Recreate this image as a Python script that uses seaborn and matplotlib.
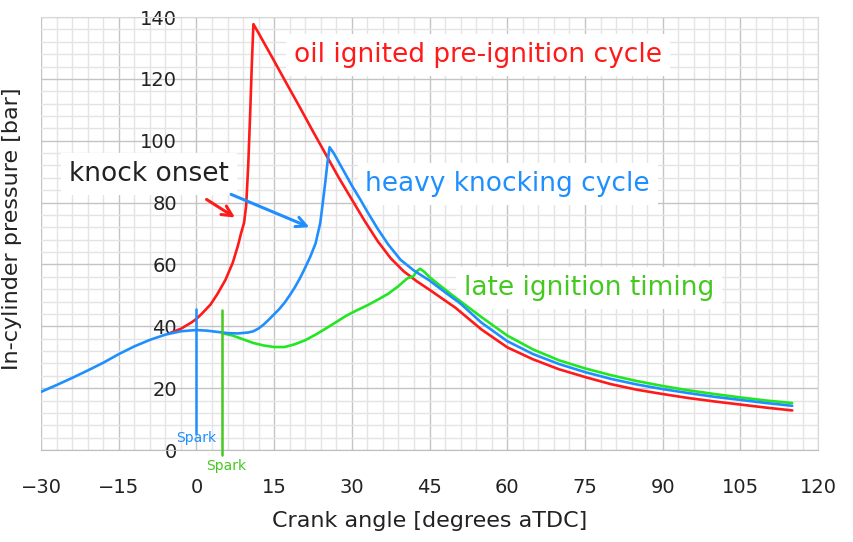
import numpy as np
import matplotlib
matplotlib.use('Agg')
import matplotlib.pyplot as plt
import seaborn as sns

sns.set_style('white')
plt.rcParams['font.family'] = ['DejaVu Sans']

# ---- data (crank angle [deg aTDC], pressure [bar]) ----
# heavy knocking cycle (also the shared compression curve)
knock_deg = [-30, -27, -24, -21, -18, -15, -12, -9, -6, -3, 0, 2, 4, 6, 8, 10, 11, 12,
             13, 14, 15, 16, 17, 18, 19, 20, 21, 22, 23, 23.9, 24.4, 24.9, 25.3, 25.7,
             26.5, 28, 30, 31.7, 33, 35, 37, 39.4, 42, 45, 48, 51, 55, 60, 65, 70, 75,
             80, 85, 90, 95, 100, 105, 110, 115]
knock_bar = [18.8, 21.0, 23.3, 25.7, 28.2, 31.0, 33.5, 35.6, 37.3, 38.4, 38.8, 38.6, 38.2,
             37.8, 37.7, 38.0, 38.4, 39.3, 40.6, 42.2, 43.9, 45.6, 47.6, 50.0, 52.6, 55.6,
             59.0, 62.6, 66.8, 73.4, 80.0, 87.0, 93.0, 97.9, 96.0, 91.5, 85.5, 80.8, 77.0,
             71.5, 66.5, 61.5, 58.0, 54.8, 51.0, 47.3, 41.2, 35.2, 31.0, 27.8, 25.2, 23.0,
             21.2, 19.7, 18.4, 17.2, 16.2, 15.2, 14.3]

# oil ignited pre-ignition cycle
preign_deg = [-5, -3, -1, 0, 1, 2.7, 4, 5.6, 7, 8, 8.6, 9.2, 9.6, 10.0, 10.4, 10.7, 11.0,
              12, 13, 15, 17.5, 20, 22.5, 25, 27.5, 30, 32.5, 35, 37.5, 40, 42.5, 45, 50,
              55, 60, 65, 70, 75, 80, 85, 90, 95, 100, 105, 110, 115]
preign_bar = [37.9, 39.2, 41.2, 42.4, 44.0, 47.0, 50.3, 55.0, 60.5, 66.0, 70.0, 73.5, 79.0,
              92.0, 110.0, 125.0, 137.7, 134.8, 131.8, 125.8, 118.2, 110.7, 103.0, 95.5,
              88.0, 81.0, 74.0, 67.5, 62.0, 57.8, 54.6, 51.8, 46.0, 39.0, 33.2, 29.3, 26.1,
              23.6, 21.3, 19.5, 18.1, 16.8, 15.7, 14.7, 13.7, 12.8]

# late ignition timing
late_deg = [5, 7, 9, 11, 13, 15, 17, 19, 21, 23, 25, 27, 29, 31, 33, 35, 37, 39, 40.7,
            41.9, 42.5, 43.2, 44, 45, 47, 50, 55, 60, 65, 70, 75, 80, 85, 90, 95, 100,
            105, 110, 115]
late_bar = [37.8, 37.0, 35.8, 34.6, 33.8, 33.3, 33.3, 34.2, 35.5, 37.3, 39.3, 41.4, 43.5,
            45.2, 46.8, 48.6, 50.5, 53.0, 55.5, 56.2, 57.8, 58.6, 57.6, 55.9, 53.2, 49.3,
            43.0, 37.0, 32.5, 29.0, 26.4, 24.2, 22.3, 20.7, 19.3, 18.1, 17.0, 16.0, 15.2]

spark_deg = [0, 5]

red = '#ff1a1a'
blue = '#1f8fff'
green = '#22e622'
green_dark = '#45c81f'

fig, ax = plt.subplots(figsize=(8.54, 5.42), dpi=100)
fig.subplots_adjust(left=0.048, right=0.958, bottom=0.1697, top=0.9686)

sns.lineplot(x=preign_deg, y=preign_bar, color=red, lw=1.9, sort=False,
             estimator=None, ax=ax, zorder=3)
sns.lineplot(x=late_deg, y=late_bar, color=green, lw=1.9, sort=False,
             estimator=None, ax=ax, zorder=3)
sns.lineplot(x=knock_deg, y=knock_bar, color=blue, lw=1.9, sort=False,
             estimator=None, ax=ax, zorder=4)

# spark markers
ax.plot([spark_deg[0], spark_deg[0]], [5.5, 45.6], color=blue, lw=1.8, zorder=4)
ax.plot([spark_deg[1], spark_deg[1]], [-1.6, 45.3], color=green_dark, lw=1.8,
        zorder=4, clip_on=False)
ax.text(spark_deg[0], 3.9, 'Spark', color=blue, fontsize=10, ha='center',
        va='center', zorder=5)
ax.text(spark_deg[1] + 0.8, -5.2, 'Spark', color=green_dark, fontsize=10,
        ha='center', va='center', clip_on=False)

# annotations (white boxes sit under the curves)
box = dict(boxstyle='square,pad=0.3', fc='white', ec='none')
ax.text(54.3, 127.7, 'oil ignited pre-ignition cycle', color=red, fontsize=19,
        ha='center', va='center', bbox=box, zorder=2)
ax.text(60.1, 86.0, 'heavy knocking cycle', color=blue, fontsize=19,
        ha='center', va='center', bbox=box, zorder=2)
ax.text(75.8, 52.5, 'late ignition timing', color=green_dark, fontsize=19,
        ha='center', va='center', bbox=box, zorder=2)
ax.text(-9.2, 89.2, 'knock onset', color='#222222', fontsize=19,
        ha='center', va='center', bbox=box, zorder=2)
ax.annotate('', xy=(7.9, 74.7), xytext=(1.5, 81.5),
            arrowprops=dict(arrowstyle='->', color=red, lw=2.2, mutation_scale=18),
            zorder=6)
ax.annotate('', xy=(22.3, 71.7), xytext=(6.2, 83.0),
            arrowprops=dict(arrowstyle='->', color=blue, lw=2.2, mutation_scale=18),
            zorder=6)

# axes, ticks and grid
ax.set_xlim(-30, 120)
ax.set_ylim(0, 140)
ax.set_xticks(np.arange(-30, 121, 15))
ax.set_yticks(np.arange(0, 141, 20))
ax.set_xticks(np.arange(-30, 121, 3), minor=True)
ax.set_yticks(np.arange(0, 141, 4), minor=True)
ax.grid(which='major', color='#c4c4c4', lw=1.0, zorder=0)
ax.grid(which='minor', color='#e4e4e4', lw=1.0, zorder=0)
ax.set_axisbelow(True)

ax.spines['left'].set_position(('data', 0))
ax.spines['left'].set_color('none')
for s in ['top', 'right']:
    ax.spines[s].set_color('#d8d8d8')
ax.spines['bottom'].set_color('#bdbdbd')

ax.tick_params(axis='x', which='major', length=6, color='#bdbdbd', pad=14,
               labelsize=14, labelcolor='#222222')
ax.tick_params(axis='y', which='major', length=0, pad=14, labelsize=14,
               labelcolor='#222222')
ax.tick_params(which='minor', length=0)

ax.set_xlabel('Crank angle [degrees aTDC]', fontsize=16, color='#222222')
ax.set_ylabel('In-cylinder pressure [bar]', fontsize=16, color='#222222')
ax.xaxis.set_label_coords(0.5, -0.14)
ax.yaxis.set_label_coords(-0.025, 0.51)

fig.savefig('out.png', dpi=100)
